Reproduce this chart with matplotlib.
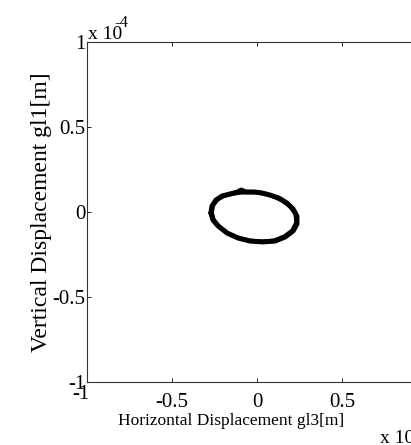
"""Recreate the orbit plot of gl1 vs gl3 displacement."""
import matplotlib
matplotlib.use("Agg")
import matplotlib.pyplot as plt
import matplotlib.transforms as mtransforms

# displacement values in units of 1e-4 m
horiz_a = [-0.271, -0.265, -0.241, -0.206, -0.159, -0.112, -0.094, -0.065,
           -0.018, 0.029, 0.076, 0.129, 0.176, 0.212, 0.235, 0.235, 0.212,
           0.165, 0.106, 0.035, -0.041, -0.112, -0.176, -0.229, -0.259, -0.271]
vert_a = [-0.006, 0.035, 0.071, 0.094, 0.106, 0.118, 0.129, 0.118,
          0.118, 0.112, 0.100, 0.082, 0.053, 0.018, -0.024, -0.071, -0.112,
          -0.147, -0.171, -0.176, -0.171, -0.153, -0.124, -0.082, -0.047, -0.006]
# second pass of the orbit, slightly inside the first
horiz_b = [-0.262, -0.255, -0.230, -0.196, -0.150, -0.100, -0.050, 0.000,
           0.050, 0.100, 0.150, 0.192, 0.222, 0.228, 0.205, 0.160, 0.100,
           0.030, -0.045, -0.115, -0.175, -0.225, -0.252, -0.262]
vert_b = [-0.004, 0.038, 0.070, 0.090, 0.102, 0.110, 0.112, 0.112,
          0.102, 0.086, 0.062, 0.030, -0.010, -0.060, -0.106, -0.140,
          -0.164, -0.170, -0.164, -0.146, -0.118, -0.078, -0.042, -0.004]

ticks = [-1, -0.5, 0, 0.5, 1]
tick_labels = ["-1", "-0.5", "0", "0.5", "1"]

plt.rcParams["font.family"] = ["Liberation Serif", "DejaVu Serif"]

fig = plt.figure(figsize=(4.11, 4.45), dpi=100)
ax = fig.add_axes([87 / 411, 63 / 445, 340 / 411, 340 / 445])

ax.plot(horiz_a, vert_a, color="black", linewidth=3.6,
        solid_joinstyle="round", solid_capstyle="round")
ax.plot(horiz_b, vert_b, color="black", linewidth=2.0,
        solid_joinstyle="round", solid_capstyle="round")

ax.set_xlim(-1, 1)
ax.set_ylim(-1, 1)
ax.set_xticks(ticks)
ax.set_xticklabels(tick_labels)
ax.set_yticks(ticks)
ax.set_yticklabels(tick_labels)
ax.tick_params(direction="in", length=3, width=0.6, labelsize=15, pad=1,
               top=True, right=True)
ax.tick_params(axis="x", pad=8)
for spine in ax.spines.values():
    spine.set_linewidth(0.8)
    spine.set_color("#333333")

# the -1 under the x axis sits higher than the other labels
first = ax.get_xticklabels()[0]
first.set_transform(first.get_transform()
                    + mtransforms.ScaledTranslation(-0.06, 0.08, fig.dpi_scale_trans))

ax.set_xlabel("Horizontal Displacement gl3[m]", fontsize=12.5)
ax.xaxis.set_label_coords((231 - 87) / 340, -31 / 340, transform=ax.transAxes)
ax.xaxis.label.set_va("top")
ax.set_ylabel("Vertical Displacement gl1[m]", fontsize=17)
ax.yaxis.set_label_coords(-(87 - 42) / 340, 0.5, transform=ax.transAxes)
ax.yaxis.label.set_va("center")

# exponent labels, as the old plotting program placed them
fig.text(88 / 411, 1 - 39 / 445, "x 10", fontsize=14, ha="left", va="baseline")
fig.text(114 / 411, 1 - 27 / 445, "-4", fontsize=12, ha="left", va="baseline")
fig.text(380 / 411, 1 - 443 / 445, "x 10", fontsize=14, ha="left", va="baseline")

fig.savefig("out.png", dpi=100)
